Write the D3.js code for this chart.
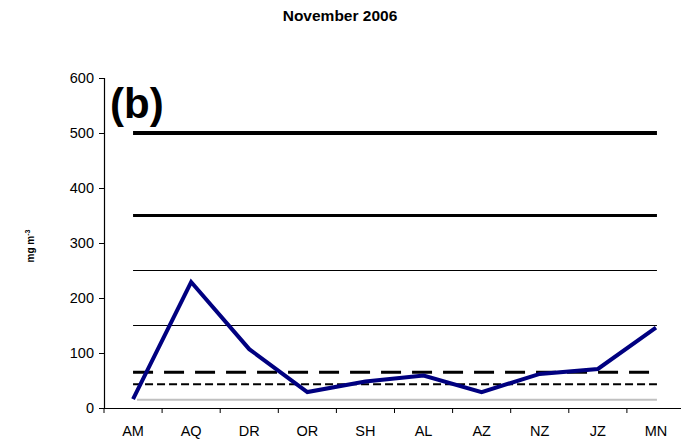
<!DOCTYPE html>
<html>
<head>
<meta charset="utf-8">
<script src="https://cdn.jsdelivr.net/npm/d3@7"></script>
<style>
  body { margin: 0; background: #fff; }
  text { font-family: "Liberation Sans", Arial, sans-serif; }
</style>
</head>
<body>
<div id="chart"></div>
<script>
// sites along the x axis
var sites = ["AM", "AQ", "DR", "OR", "SH", "AL", "AZ", "NZ", "JZ", "MN"];
// concentration, November 2006
var values = [16, 229, 107, 29, 48, 59, 29, 62, 71, 146];
// reference levels drawn as horizontal lines
var levels = [500, 350, 250, 150, 65, 43, 15];
var yTicks = [0, 100, 200, 300, 400, 500, 600];

var width = 681, height = 446,
    margin = {top: 78, bottom: 38, left: 104};

var svg = d3.select("#chart").append("svg")
    .attr("width", width)
    .attr("height", height);

var x = d3.scaleBand()
    .domain(sites)
    .range([margin.left, margin.left + 581]);

var y = d3.scaleLinear()
    .domain([0, 600])
    .range([height - margin.bottom, margin.top]);

// style of each reference line
var levelStyle = [
  {w: 4, c: "#000", dash: null},
  {w: 3, c: "#000", dash: null},
  {w: 1.2, c: "#000", dash: null},
  {w: 1.2, c: "#000", dash: null},
  {w: 3, c: "#000", dash: "20,11"},
  {w: 2, c: "#000", dash: "8,4"},
  {w: 2, c: "#c0c0c0", dash: null}
];

var x0 = x(sites[0]) + x.bandwidth() / 2,
    x1 = x(sites[sites.length - 1]) + x.bandwidth() / 2 + 1;

svg.append("g").selectAll("line")
  .data(levels)
  .enter().append("line")
    .attr("x1", function(d, i) { return i == 6 ? x0 + 4 : x0; })
    .attr("x2", x1)
    .attr("y1", function(d) { return y(d); })
    .attr("y2", function(d) { return y(d); })
    .attr("stroke", function(d, i) { return levelStyle[i].c; })
    .attr("stroke-width", function(d, i) { return levelStyle[i].w; })
    .attr("stroke-dasharray", function(d, i) { return levelStyle[i].dash; });

// axes
var yAxis = svg.append("g")
    .attr("transform", "translate(" + margin.left + ",0)")
    .call(d3.axisLeft(y).tickValues(yTicks).tickSize(5).tickPadding(5));

var xAxis = svg.append("g")
    .attr("transform", "translate(0," + (height - margin.bottom) + ")")
    .call(d3.axisBottom(x).tickSize(0));

xAxis.selectAll(".tick text").attr("y", 28).attr("dy", 0);

// ticks between categories
xAxis.selectAll(".sep")
  .data(sites)
  .enter().append("line")
    .attr("class", "sep")
    .attr("x1", function(d) { return x(d); })
    .attr("x2", function(d) { return x(d); })
    .attr("y1", 0)
    .attr("y2", 5)
    .attr("stroke", "#000");

svg.selectAll(".domain").attr("stroke", "#000").attr("stroke-width", 1.2);
svg.selectAll(".tick line").attr("stroke", "#000");
svg.selectAll(".tick text")
    .attr("fill", "#000")
    .style("font-size", "14.5px")
    .style("font-family", "'Liberation Sans', Arial, sans-serif");

// data line
var line = d3.line()
    .x(function(d, i) { return x(sites[i]) + x.bandwidth() / 2; })
    .y(function(d) { return y(d); });

svg.append("path")
    .datum(values)
    .attr("fill", "none")
    .attr("stroke", "#000080")
    .attr("stroke-width", 4)
    .attr("d", line);

// title and labels
svg.append("text")
    .attr("x", 340)
    .attr("y", 21)
    .attr("text-anchor", "middle")
    .style("font-size", "15.5px")
    .style("font-weight", "bold")
    .text("November 2006");

svg.append("text")
    .attr("x", 110)
    .attr("y", 118)
    .style("font-size", "42px")
    .style("font-weight", "bold")
    .text("(b)");

var yl = svg.append("text")
    .attr("transform", "translate(34,246) rotate(-90)")
    .attr("text-anchor", "middle")
    .style("font-size", "10px")
    .style("font-weight", "bold");
yl.append("tspan").text("mg m");
yl.append("tspan").attr("dy", -4).style("font-size", "7px").text("-3");
</script>
</body>
</html>
